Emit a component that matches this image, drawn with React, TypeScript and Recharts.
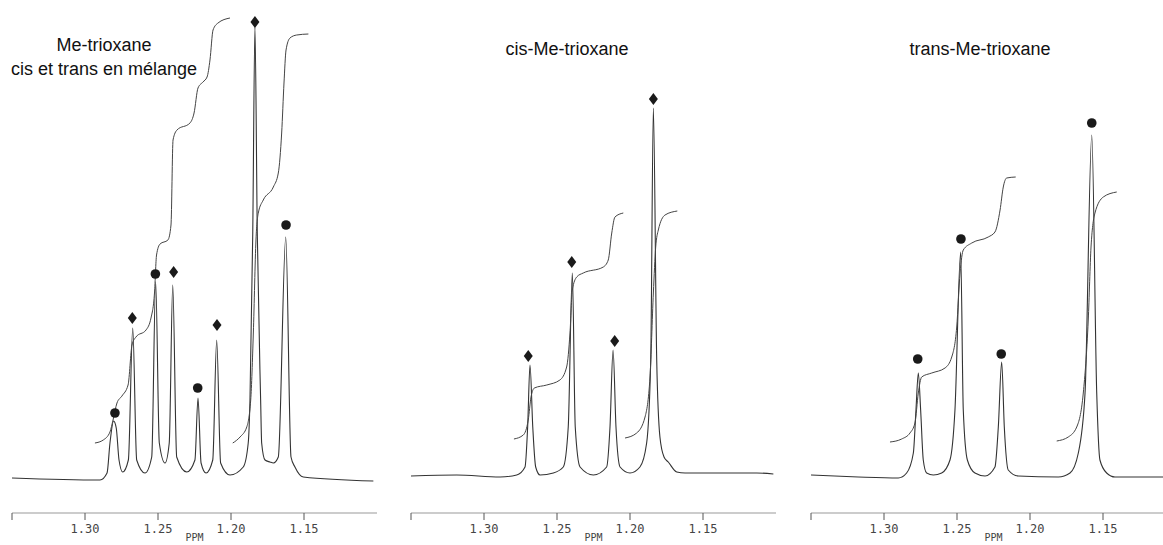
import { ComposedChart, Line, Scatter, XAxis, YAxis, Label } from "recharts";

type Pt = [number, number];

// axis: ppm runs right-to-left, end tick at 1.35 has no label
const PPM_TICKS = [1.35, 1.3, 1.25, 1.2, 1.15];

// ---- Me-trioxane, cis + trans mixture ----
const mixSpectrum: Pt[] = [
  [1.35, -1], [1.2897, -3], [1.2849, 4], [1.2829, 34], [1.2804, 56], [1.2786, 49],
  [1.2767, 17], [1.2742, 5], [1.2703, 17], [1.2673, 149], [1.2646, 17], [1.2589, 4],
  [1.2543, 20], [1.2516, 195], [1.2491, 34], [1.2452, 14], [1.2423, 34], [1.2399, 192],
  [1.2372, 20], [1.2303, 5], [1.2247, 17], [1.2226, 79], [1.2205, 14], [1.2171, 4],
  [1.2125, 17], [1.2098, 137], [1.2071, 14], [1.2007, 2], [1.1916, 10], [1.1882, 34],
  [1.187, 77], [1.1851, 244], [1.1836, 450], [1.182, 244], [1.1797, 77], [1.179, 34],
  [1.1767, 17], [1.1733, 15], [1.171, 14], [1.1676, 20], [1.1625, 240], [1.1589, 20],
  [1.1562, 10], [1.1505, 0], [1.1025, -4],
];
const mixIntegralA: Pt[] = [
  [1.2932, 34], [1.2875, 37], [1.2829, 45], [1.2808, 57], [1.2781, 74], [1.2747, 81],
  [1.2705, 92], [1.2678, 132], [1.2651, 140], [1.2582, 147], [1.2548, 159], [1.2524, 184],
  [1.251, 222], [1.2486, 233], [1.2432, 237], [1.2411, 252], [1.2397, 337], [1.237, 347],
  [1.2281, 354], [1.2253, 364], [1.2226, 389], [1.2192, 395], [1.2164, 400], [1.2144, 417],
  [1.2123, 447], [1.2089, 454], [1.2007, 459],
];
const mixIntegralB: Pt[] = [
  [1.1988, 34], [1.1938, 40], [1.1892, 50], [1.1865, 77], [1.1847, 144], [1.1829, 237],
  [1.1813, 264], [1.1779, 277], [1.171, 290], [1.1676, 304], [1.1653, 344], [1.1637, 394],
  [1.1623, 427], [1.1596, 439], [1.155, 442], [1.147, 443],
];
const mixDiamonds: Pt[] = [[1.2676, 159], [1.2393, 205], [1.2096, 152], [1.1836, 455]];
const mixCircles: Pt[] = [[1.2795, 64], [1.2518, 203], [1.2228, 89], [1.1623, 252]];

// ---- cis-Me-trioxane ----
const cisSpectrum: Pt[] = [
  [1.35, 1], [1.3187, 2], [1.289, 0], [1.2776, 2], [1.2719, 10], [1.2701, 50],
  [1.2685, 112], [1.2666, 50], [1.2646, 10], [1.2616, 2], [1.2525, 4], [1.2457, 10],
  [1.2423, 50], [1.2395, 204], [1.2375, 50], [1.2342, 10], [1.2251, 2], [1.216, 10],
  [1.2137, 50], [1.2116, 127], [1.2096, 50], [1.2068, 10], [1.2, 4], [1.1932, 10],
  [1.1886, 34], [1.1858, 117], [1.184, 369], [1.1817, 117], [1.1795, 40], [1.1767, 20],
  [1.1738, 15], [1.168, 5], [1.1623, 4], [1.1132, 4], [1.1018, 3],
];
const cisIntegralA: Pt[] = [
  [1.2795, 38], [1.2731, 42], [1.2697, 57], [1.2678, 80], [1.2655, 89], [1.257, 92],
  [1.248, 97], [1.2434, 110], [1.2411, 144], [1.2395, 187], [1.2365, 200], [1.232, 204],
  [1.2183, 210], [1.2149, 217], [1.2125, 244], [1.2103, 260], [1.2046, 264],
];
const cisIntegralB: Pt[] = [
  [1.2034, 39], [1.1954, 44], [1.1897, 60], [1.1863, 100], [1.184, 184], [1.1824, 230],
  [1.1806, 247], [1.176, 262], [1.1676, 266],
];
const cisDiamonds: Pt[] = [[1.2697, 121], [1.2399, 215], [1.2105, 136], [1.184, 378]];

// ---- trans-Me-trioxane ----
const transSpectrum: Pt[] = [
  [1.35, 2], [1.3176, 0], [1.2902, -1], [1.2845, 4], [1.2799, 24], [1.2781, 67],
  [1.2765, 104], [1.2749, 67], [1.2731, 17], [1.2708, 4], [1.2662, 2], [1.2605, 4],
  [1.2548, 17], [1.2514, 67], [1.2475, 225], [1.2457, 67], [1.2429, 17], [1.2377, 4],
  [1.2308, 1], [1.224, 10], [1.2217, 50], [1.2194, 115], [1.2176, 50], [1.2149, 7],
  [1.208, 1], [1.1806, 0], [1.1726, 4], [1.1669, 24], [1.1623, 84], [1.1577, 342],
  [1.1543, 84], [1.1521, 17], [1.1475, 4], [1.1418, 0], [1.1, 0],
];
const transIntegralA: Pt[] = [
  [1.2959, 35], [1.2879, 38], [1.2822, 44], [1.2788, 54], [1.2765, 84], [1.2742, 100],
  [1.2673, 104], [1.2582, 109], [1.2536, 120], [1.2502, 150], [1.2479, 204], [1.2457, 227],
  [1.2399, 234], [1.2286, 240], [1.224, 245], [1.2205, 267], [1.2183, 290], [1.216, 299],
  [1.2098, 300],
];
const transIntegralB: Pt[] = [
  [1.1817, 36], [1.1738, 40], [1.168, 50], [1.1635, 84], [1.1601, 157], [1.1582, 230],
  [1.1555, 264], [1.1498, 280], [1.1406, 285],
];
const transCircles: Pt[] = [[1.2769, 118], [1.2473, 238], [1.2197, 123], [1.1577, 354]];

const rows = (pts: Pt[]) => pts.map(([x, y]) => ({ x, y }));

const INK = "#1a1a1a";
const MONO = "'DejaVu Sans Mono', monospace";
const SANS = "'Liberation Sans', Arial, sans-serif";

function Diamond(props: any) {
  const { cx, cy } = props;
  return (
    <polygon
      points={`${cx},${cy - 6} ${cx + 4.5},${cy} ${cx},${cy + 6} ${cx - 4.5},${cy}`}
      fill={INK}
    />
  );
}

function Dot(props: any) {
  const { cx, cy } = props;
  return <circle cx={cx} cy={cy} r={4.8} fill={INK} />;
}

type PanelProps = {
  left: number;
  spectrum: Pt[];
  integrals: Pt[][];
  diamonds?: Pt[];
  circles?: Pt[];
};

function Panel({ left, spectrum, integrals, diamonds, circles }: PanelProps) {
  return (
    <div style={{ position: "absolute", left: left - 5, top: 0 }}>
      <ComposedChart width={385} height={545} margin={{ top: 13, right: 15, bottom: 0, left: 5 }}>
        <XAxis
          type="number"
          dataKey="x"
          domain={[1.1, 1.35]}
          reversed
          allowDataOverflow
          ticks={PPM_TICKS}
          interval={0}
          tickFormatter={(v: number) => (v > 1.34 ? "" : v.toFixed(2))}
          height={32}
          tickSize={7}
          tickMargin={4}
          axisLine={{ stroke: "#999" }}
          tickLine={{ stroke: "#555" }}
          tick={{ fontSize: 12, fontFamily: MONO, fill: "#444" }}
        >
          <Label
            value="PPM"
            position="insideBottom"
            offset={4}
            style={{ fontSize: 10, fontFamily: MONO, fill: "#444" }}
          />
        </XAxis>
        <YAxis type="number" dataKey="y" domain={[-36, 464]} allowDataOverflow hide width={0} />
        <Line
          data={rows(spectrum)}
          dataKey="y"
          type="monotone"
          stroke="#333"
          strokeWidth={1.1}
          dot={false}
          activeDot={false}
          isAnimationActive={false}
        />
        {integrals.map((seg, i) => (
          <Line
            key={i}
            data={rows(seg)}
            dataKey="y"
            type="monotone"
            stroke="#444"
            strokeWidth={1}
            dot={false}
            activeDot={false}
            isAnimationActive={false}
          />
        ))}
        {diamonds && (
          <Scatter data={rows(diamonds)} dataKey="y" shape={Diamond} isAnimationActive={false} />
        )}
        {circles && (
          <Scatter data={rows(circles)} dataKey="y" shape={Dot} isAnimationActive={false} />
        )}
      </ComposedChart>
    </div>
  );
}

const titleStyle: React.CSSProperties = {
  position: "absolute",
  fontFamily: SANS,
  fontSize: 18,
  lineHeight: "20px",
  color: "#111",
  whiteSpace: "nowrap",
  transform: "translateX(-50%)",
  textAlign: "center",
};

export default function App() {
  return (
    <div
      style={{
        position: "absolute",
        left: 0,
        top: 0,
        width: 1163,
        height: 545,
        overflow: "hidden",
        background: "#fff",
      }}
    >
      <Panel
        left={12}
        spectrum={mixSpectrum}
        integrals={[mixIntegralA, mixIntegralB]}
        diamonds={mixDiamonds}
        circles={mixCircles}
      />
      <Panel
        left={411}
        spectrum={cisSpectrum}
        integrals={[cisIntegralA, cisIntegralB]}
        diamonds={cisDiamonds}
      />
      <Panel
        left={811}
        spectrum={transSpectrum}
        integrals={[transIntegralA, transIntegralB]}
        circles={transCircles}
      />
      <div style={{ ...titleStyle, left: 104, top: 35 }}>Me-trioxane</div>
      <div style={{ ...titleStyle, left: 104, top: 59 }}>cis et trans en mélange</div>
      <div style={{ ...titleStyle, left: 567, top: 39 }}>cis-Me-trioxane</div>
      <div style={{ ...titleStyle, left: 980, top: 39 }}>trans-Me-trioxane</div>
    </div>
  );
}
